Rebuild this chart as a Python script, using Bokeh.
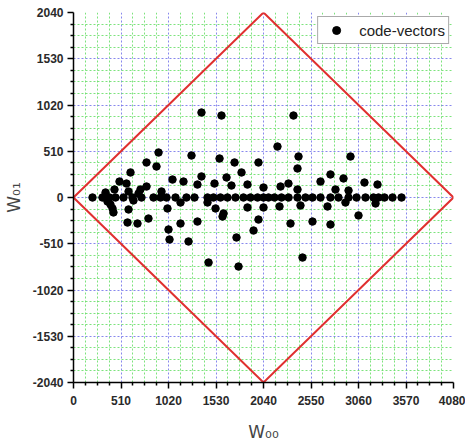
from bokeh.plotting import figure
from bokeh.models import Range1d, FixedTicker
from bokeh.embed import file_html
from bokeh.resources import INLINE

# code-vectors lying on the W01 = 0 line
zero_x = [204, 311, 387, 451, 537, 633, 730, 859, 934, 999, 1095, 1213, 1299,
          1439, 1503, 1578, 1653, 1739, 1825, 1900, 1976, 2040, 2094, 2158,
          2233, 2309, 2405, 2491, 2566, 2652, 2759, 2845, 2953, 3039, 3135,
          3221, 3275, 3339, 3425, 3522]

# code-vectors off the zero line
off_x = [1374, 1589, 2362, 913, 1267, 784, 891, 1568, 1729, 1986, 2190, 2416,
         2974, 2405, 1804, 612, 1063, 1181, 494, 569, 719, 784, 591, 440, 945,
         698, 1374, 1643, 1331, 1514, 1696, 1868, 2040, 2223, 2308, 2405, 2652,
         2759, 2899, 2813, 2953, 3124, 3264, 344,
         365, 397, 419, 429, 644, 591, 1009, 1149, 1439, 1525, 1611, 1600, 580,
         687, 805, 1331, 1020, 1031, 1149, 1235, 1750, 1933, 1986, 1868, 2040,
         2212, 2437, 2727, 2920, 3243, 2330, 2566, 2759, 3060, 1450, 1772, 2459]
off_y = [937, 904, 904, 496, 463, 386, 342, 430, 386, 386, 562, 452,
         452, 320, 276, 276, 198, 176, 176, 154, 88, 121, 66, 88, 66,
         44, 232, 221, 143, 154, 132, 143, 110, 121, 154, 88, 176,
         254, 210, 88, 77, 165, 143, 55,
         -44, -77, -121, -165, -33, -132, -121, -55, -55, -121, -176, -210, -276,
         -287, -232, -265, -353, -463, -287, -485, -441, -364, -243, -110, -110,
         -99, -88, -99, -55, -66, -287, -265, -298, -198, -717, -761, -662]

x_ticks = [0, 510, 1020, 1530, 2040, 2550, 3060, 3570, 4080]
y_ticks = [-2040, -1530, -1020, -510, 0, 510, 1020, 1530, 2040]
y_tick_labels = ["-2040", "-1530", "-1020", "-510", "0", "510", "1020", "1530", "2040"]
x_minor = [i * 127.5 for i in range(33) if i % 4]
y_minor = [-2040 + i * 127.5 for i in range(33) if i % 4]

boundary_x = [0, 2040, 4080, 2040, 0]
boundary_y = [0, 2040, 0, -2040, 0]

xs = zero_x + off_x
ys = [0] * len(zero_x) + off_y

p = figure(frame_width=380, frame_height=370,
           x_range=Range1d(0, 4080), y_range=Range1d(-2040, 2040),
           output_backend="svg", toolbar_location=None,
           min_border_left=73, min_border_right=12,
           min_border_top=12, min_border_bottom=56,
           background_fill_color="white", border_fill_color="white")
p.outline_line_color = None

# grids
for g in (p.xgrid, p.ygrid):
    g.grid_line_color = "#6a6ae8"
    g.grid_line_dash = "2 2"
    g.grid_line_alpha = 0.8
    g.grid_line_width = 1
    g.minor_grid_line_color = "#5cdc5c"
    g.minor_grid_line_dash = "2 2"
    g.minor_grid_line_alpha = 0.8
    g.minor_grid_line_width = 1

p.xaxis.ticker = FixedTicker(ticks=x_ticks, minor_ticks=x_minor)
p.yaxis.ticker = FixedTicker(ticks=y_ticks, minor_ticks=y_minor)
p.yaxis.major_label_overrides = {v: s for v, s in zip(y_ticks, y_tick_labels)}

for ax in (p.xaxis, p.yaxis):
    ax.axis_line_color = "black"
    ax.axis_line_width = 1.5
    ax.major_tick_line_color = "black"
    ax.major_tick_line_width = 1.5
    ax.minor_tick_line_color = "black"
    ax.minor_tick_line_width = 1.5
    ax.major_tick_in = 0
    ax.major_tick_out = 6
    ax.minor_tick_in = 0
    ax.minor_tick_out = 3
    ax.major_label_text_font = "Liberation Sans"
    ax.major_label_text_font_size = "12px"
    ax.major_label_text_font_style = "bold"
    ax.major_label_text_color = "#2a2a2a"
    ax.axis_label_text_font = "DejaVu Sans"
    ax.axis_label_text_font_size = "17px"
    ax.axis_label_text_font_style = "normal"
    ax.axis_label_text_color = "#444444"

p.xaxis.axis_label = "W\u2080\u2080"
p.yaxis.axis_label = "W\u2080\u2081"
p.xaxis.major_label_standoff = 7
p.yaxis.major_label_standoff = 4
p.xaxis.axis_label_standoff = 14
p.yaxis.axis_label_standoff = 6

p.line(boundary_x, boundary_y, line_color="#e03030", line_width=2)

p.scatter(xs, ys, size=7.5, marker="circle", fill_color="black",
          line_color="black", legend_label="code-vectors")

lg = p.legend[0]
lg.location = "top_right"
lg.margin = 4
lg.padding = 3
lg.spacing = 0
lg.label_height = 20
lg.glyph_width = 30
lg.glyph_height = 20
lg.label_standoff = 8
lg.label_text_font = "Liberation Sans"
lg.label_text_font_size = "15px"
lg.label_text_color = "#222222"
lg.border_line_color = "#555555"
lg.border_line_width = 1.5
lg.background_fill_color = "white"
lg.background_fill_alpha = 1.0

open("out.html", "w").write(file_html(p, INLINE))
